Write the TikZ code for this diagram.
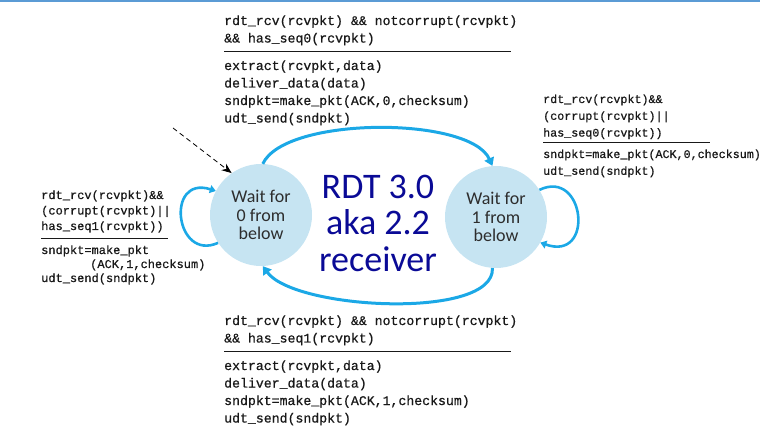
\documentclass[tikz,border=0pt]{standalone}
\usepackage{fontspec}
\newfontfamily\calfont{Carlito}
\newfontfamily\codefont[FakeBold=0.7]{Liberation Mono}
\usetikzlibrary{arrows.meta}
\definecolor{topline}{RGB}{91,155,213}
\definecolor{arcblue}{RGB}{27,168,230}
\definecolor{circfill}{RGB}{198,228,242}
\definecolor{titleblue}{RGB}{10,10,150}
\definecolor{circtext}{RGB}{45,45,45}
\definecolor{codetext}{RGB}{25,25,25}
\begin{document}
\begin{tikzpicture}[x=1pt,y=-1pt,
  state/.style={circle, fill=circfill, minimum size=102pt, inner sep=0pt, align=center,
    text=circtext, font=\calfont\fontsize{18}{18.5}\selectfont},
  trans/.style={line width=3pt, draw=arcblue, -{Triangle[length=8pt,width=10pt]}},
  selfloop/.style={line width=2.6pt, draw=arcblue, -{Triangle[length=6pt,width=8pt]}},
  codebig/.style={font=\codefont\fontsize{13.2}{17.5}\selectfont, anchor=base west, align=left, inner sep=0pt, text=codetext},
  coderight/.style={font=\codefont\fontsize{11.7}{16.8}\selectfont, anchor=base west, align=left, inner sep=0pt, text=codetext},
  codeleft/.style={font=\codefont\fontsize{12}{15.5}\selectfont, anchor=base west, align=left, inner sep=0pt, text=codetext},
  codeleftact/.style={font=\codefont\fontsize{12}{14}\selectfont, anchor=base west, align=left, inner sep=0pt, text=codetext},
  coderule/.style={draw=codetext, line width=0.9pt},
  titletext/.style={font=\calfont\fontsize{36}{36.5}\selectfont, text=titleblue, align=center, inner sep=0pt},
  dasharrow/.style={draw=black, line width=0.8pt, dash pattern=on 5pt off 3.5pt, -{Stealth[length=10pt,width=8pt]}}
]
\useasboundingbox (0,0) rectangle (760,427);
\draw[topline, line width=2pt] (0,1) -- (760,1);

% states
\node[state] (L) at (261,215) {Wait for\\0 from\\below};
\node[state] (R) at (496,217) {Wait for\\1 from\\below};
\node[titletext] (T) at (378,223) {RDT 3.0\\aka 2.2\\receiver};

% transitions
\draw[trans] (L.88) .. controls (285,116) and (470,116) .. (R.94);
\draw[trans] (R.266) .. controls (495,320) and (295,310) .. (L.272);
\draw[selfloop] (L.213) .. controls (175,262) and (165,175) .. (L.152);
\draw[selfloop] (R.32) .. controls (585,168) and (595,262) .. (R.-30);

% initial arrow
\coordinate (init) at (173,128);
\draw[dasharrow] (init) -- (L.125);

% top label (anchor = baseline of last line)
\node[codebig] (tc) at (224,42.5) {rdt\_rcv(rcvpkt) \&\& notcorrupt(rcvpkt)\\\&\& has\_seq0(rcvpkt)};
\draw[coderule] (224,51) -- (511,51);
\node[codebig] (ta) at (224,122.5) {extract(rcvpkt,data)\\deliver\_data(data)\\sndpkt=make\_pkt(ACK,0,checksum)\\udt\_send(sndpkt)};

% bottom label
\node[codebig] (bc) at (224,342.5) {rdt\_rcv(rcvpkt) \&\& notcorrupt(rcvpkt)\\\&\& has\_seq1(rcvpkt)};
\draw[coderule] (224,351) -- (511,351);
\node[codebig] (ba) at (224,422.5) {extract(rcvpkt,data)\\deliver\_data(data)\\sndpkt=make\_pkt(ACK,1,checksum)\\udt\_send(sndpkt)};

% right label
\node[coderight] (rc) at (543,136.6) {rdt\_rcv(rcvpkt)\&\&\\(corrupt(rcvpkt)||\\has\_seq0(rcvpkt))};
\draw[coderule] (543,142.5) -- (710,142.5);
\node[coderight] (ra) at (543,174.8) {sndpkt=make\_pkt(ACK,0,checksum)\\udt\_send(sndpkt)};

% left label
\node[codeleft] (lc) at (41,230) {rdt\_rcv(rcvpkt)\&\&\\(corrupt(rcvpkt)||\\has\_seq1(rcvpkt))};
\draw[coderule] (41,238.5) -- (168,238.5);
\node[codeleftact] (la) at (41,282) {sndpkt=make\_pkt\\\hspace*{49pt}(ACK,1,checksum)\\udt\_send(sndpkt)};
\end{tikzpicture}
\end{document}
